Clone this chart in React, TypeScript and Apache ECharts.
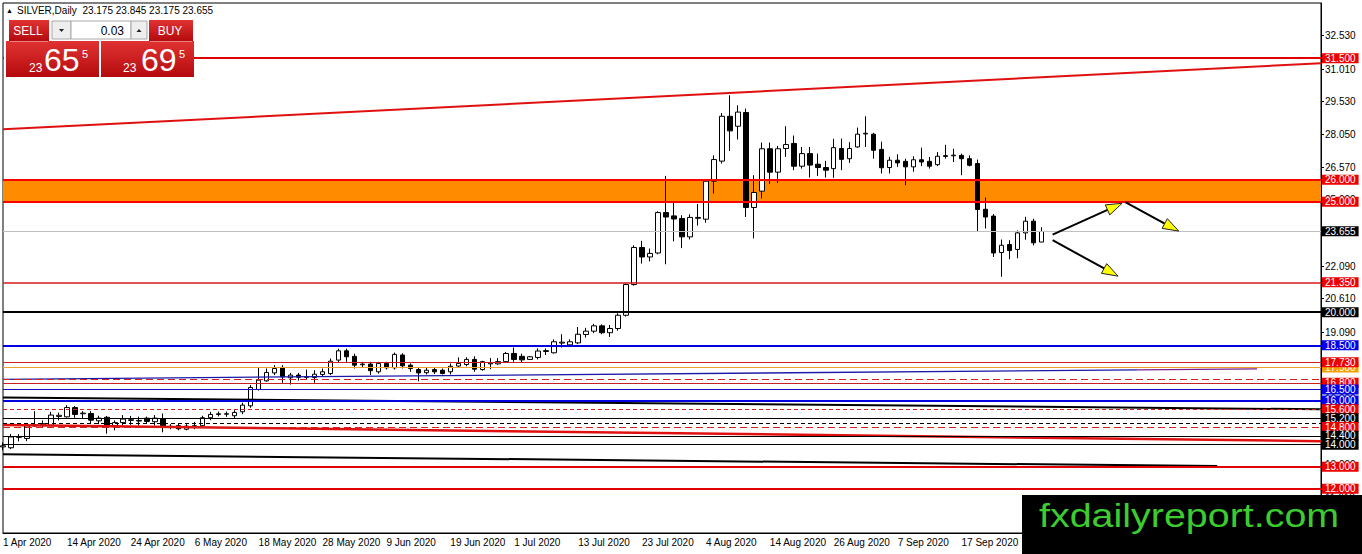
import React, { useEffect, useRef } from "react";
import * as echarts from "echarts";

const FONT = "'Liberation Sans', Arial, sans-serif";

// ---- categories (trading days) ----
const dates = [
  "1 Apr 2020", "2 Apr 2020", "3 Apr 2020", "6 Apr 2020", "7 Apr 2020", "8 Apr 2020", "9 Apr 2020", "13 Apr 2020",
  "14 Apr 2020", "15 Apr 2020", "16 Apr 2020", "17 Apr 2020", "20 Apr 2020", "21 Apr 2020", "22 Apr 2020", "23 Apr 2020",
  "24 Apr 2020", "27 Apr 2020", "28 Apr 2020", "29 Apr 2020", "30 Apr 2020", "1 May 2020", "4 May 2020", "5 May 2020",
  "6 May 2020", "7 May 2020", "8 May 2020", "11 May 2020", "12 May 2020", "13 May 2020", "14 May 2020", "15 May 2020",
  "18 May 2020", "19 May 2020", "20 May 2020", "21 May 2020", "22 May 2020", "25 May 2020", "26 May 2020", "27 May 2020",
  "28 May 2020", "29 May 2020", "1 Jun 2020", "2 Jun 2020", "3 Jun 2020", "4 Jun 2020", "5 Jun 2020", "8 Jun 2020",
  "9 Jun 2020", "10 Jun 2020", "11 Jun 2020", "12 Jun 2020", "15 Jun 2020", "16 Jun 2020", "17 Jun 2020", "18 Jun 2020",
  "19 Jun 2020", "22 Jun 2020", "23 Jun 2020", "24 Jun 2020", "25 Jun 2020", "26 Jun 2020", "29 Jun 2020", "30 Jun 2020",
  "1 Jul 2020", "2 Jul 2020", "3 Jul 2020", "6 Jul 2020", "7 Jul 2020", "8 Jul 2020", "9 Jul 2020", "10 Jul 2020",
  "13 Jul 2020", "14 Jul 2020", "15 Jul 2020", "16 Jul 2020", "17 Jul 2020", "20 Jul 2020", "21 Jul 2020", "22 Jul 2020",
  "23 Jul 2020", "24 Jul 2020", "27 Jul 2020", "28 Jul 2020", "29 Jul 2020", "30 Jul 2020", "31 Jul 2020", "3 Aug 2020",
  "4 Aug 2020", "5 Aug 2020", "6 Aug 2020", "7 Aug 2020", "10 Aug 2020", "11 Aug 2020", "12 Aug 2020", "13 Aug 2020",
  "14 Aug 2020", "17 Aug 2020", "18 Aug 2020", "19 Aug 2020", "20 Aug 2020", "21 Aug 2020", "24 Aug 2020", "25 Aug 2020",
  "26 Aug 2020", "27 Aug 2020", "28 Aug 2020", "31 Aug 2020", "1 Sep 2020", "2 Sep 2020", "3 Sep 2020", "4 Sep 2020",
  "7 Sep 2020", "8 Sep 2020", "9 Sep 2020", "10 Sep 2020", "11 Sep 2020", "14 Sep 2020", "15 Sep 2020", "16 Sep 2020",
  "17 Sep 2020", "18 Sep 2020", "21 Sep 2020", "22 Sep 2020", "23 Sep 2020", "24 Sep 2020", "25 Sep 2020", "28 Sep 2020",
  "29 Sep 2020", "30 Sep 2020", "1 Oct 2020",
];
const FUTURE_SLOTS = 35; // empty chart shift on the right

// ---- OHLC ----
const opens = [
  13.90, 13.86, 14.33, 14.28, 14.85, 14.90, 14.88, 15.28, 15.26, 15.68, 15.40, 15.41, 15.08, 15.24, 14.87, 15.00,
  15.10, 15.07, 15.20, 15.04, 15.16, 14.80, 14.86, 14.70, 14.82, 14.86, 15.22, 15.37, 15.38, 15.31, 15.49, 15.76,
  16.50, 16.89, 17.25, 17.50, 17.03, 17.15, 17.05, 17.04, 17.18, 17.22, 17.83, 18.25, 18.00, 17.62, 17.65, 17.30,
  17.68, 17.48, 18.06, 17.60, 17.40, 17.26, 17.40, 17.37, 17.30, 17.56, 17.63, 17.86, 17.40, 17.66, 17.66, 17.76,
  18.13, 18.00, 17.86, 17.95, 18.22, 18.16, 18.60, 18.52, 18.61, 18.99, 19.14, 19.38, 19.07, 19.26, 19.86, 21.25,
  22.93, 22.50, 22.68, 24.51, 24.36, 24.24, 23.41, 24.25, 24.21, 25.93, 26.84, 28.87, 28.42, 29.04, 24.74, 25.48,
  27.40, 26.34, 27.41, 27.64, 26.61, 27.18, 26.70, 26.55, 26.50, 27.41, 26.95, 27.48, 28.07, 28.06, 27.37, 26.55,
  26.88, 26.83, 26.58, 26.90, 26.83, 26.68, 27.05, 27.08, 27.10, 26.95, 26.73, 24.66, 24.35, 22.70, 23.06, 22.84,
  23.59, 24.12, 23.175,
];
const highs = [
  14.10, 14.48, 14.48, 14.96, 15.52, 15.10, 15.49, 15.45, 15.79, 15.75, 15.52, 15.52, 15.31, 15.30, 15.10, 15.34,
  15.30, 15.27, 15.27, 15.34, 15.41, 14.93, 14.95, 14.93, 15.03, 15.31, 15.49, 15.50, 15.50, 15.56, 15.90, 16.70,
  17.50, 17.45, 17.60, 17.60, 17.25, 17.25, 17.40, 17.37, 17.45, 17.90, 18.35, 18.35, 18.12, 17.75, 17.75, 17.75,
  17.75, 18.17, 18.14, 17.68, 17.50, 17.48, 17.48, 17.45, 17.68, 17.95, 17.96, 18.00, 17.80, 17.92, 17.92, 18.20,
  18.40, 18.12, 18.02, 18.36, 18.36, 18.77, 19.00, 18.77, 19.33, 19.29, 19.47, 19.45, 19.42, 19.95, 21.30, 23.03,
  23.23, 22.88, 24.57, 26.17, 24.95, 24.39, 24.43, 24.90, 26.00, 27.10, 29.02, 29.82, 29.37, 29.22, 26.20, 27.68,
  27.68, 27.53, 28.42, 28.00, 27.48, 27.48, 27.18, 26.85, 27.85, 27.86, 27.70, 28.36, 28.87, 28.12, 27.72, 27.03,
  27.15, 26.95, 27.06, 27.45, 27.03, 27.25, 27.58, 27.40, 27.18, 27.10, 26.91, 25.19, 24.44, 23.29, 23.26, 23.70,
  24.32, 24.23, 23.845,
];
const lows = [
  13.75, 13.80, 14.15, 14.16, 14.80, 14.80, 14.84, 15.10, 15.23, 15.22, 15.18, 14.96, 14.93, 14.50, 14.65, 14.86,
  14.90, 14.87, 14.98, 14.87, 14.56, 14.70, 14.65, 14.65, 14.70, 14.77, 15.11, 15.28, 15.26, 15.19, 15.38, 15.67,
  16.45, 16.85, 17.15, 16.80, 16.72, 16.90, 16.95, 16.80, 17.08, 17.15, 17.75, 17.75, 17.45, 17.50, 17.15, 17.22,
  17.40, 17.40, 17.45, 17.30, 16.87, 17.18, 17.20, 17.18, 17.18, 17.50, 17.55, 17.30, 17.35, 17.42, 17.62, 17.70,
  17.75, 17.70, 17.83, 17.86, 18.06, 18.13, 18.40, 18.45, 18.55, 18.85, 19.05, 19.00, 18.88, 19.16, 19.80, 21.20,
  22.20, 22.30, 22.62, 22.17, 23.21, 22.90, 23.29, 23.92, 24.05, 25.37, 26.73, 27.30, 27.82, 24.31, 23.34, 25.15,
  25.80, 25.85, 27.03, 26.43, 26.50, 26.10, 26.17, 26.10, 26.08, 26.43, 26.76, 27.45, 27.48, 26.95, 26.28, 26.28,
  26.58, 25.75, 26.36, 26.61, 26.50, 26.61, 26.95, 26.80, 26.20, 26.60, 23.64, 23.79, 22.50, 21.60, 22.40, 22.44,
  23.28, 23.02, 23.175,
];
const closes = [
  13.95, 14.35, 14.37, 14.85, 14.90, 14.95, 15.34, 15.33, 15.68, 15.37, 15.43, 15.11, 15.20, 14.89, 15.00, 15.16,
  15.13, 15.10, 15.05, 15.20, 14.86, 14.83, 14.72, 14.84, 14.86, 15.22, 15.37, 15.40, 15.40, 15.46, 15.79, 16.59,
  16.92, 17.27, 17.45, 17.07, 17.15, 17.05, 17.08, 17.19, 17.30, 17.78, 18.25, 17.98, 17.60, 17.65, 17.35, 17.68,
  17.48, 18.09, 17.57, 17.45, 17.25, 17.37, 17.30, 17.22, 17.55, 17.68, 17.86, 17.42, 17.76, 17.70, 17.76, 18.13,
  17.86, 17.84, 17.98, 18.24, 18.26, 18.66, 18.64, 18.66, 19.00, 19.14, 19.38, 19.07, 19.26, 19.86, 21.25, 22.93,
  22.50, 22.66, 24.51, 24.31, 24.22, 23.41, 24.29, 24.29, 25.93, 26.91, 28.87, 28.21, 29.06, 24.74, 25.42, 27.40,
  26.34, 27.40, 27.59, 26.61, 27.18, 26.66, 26.55, 26.43, 27.45, 26.92, 27.41, 28.06, 28.10, 27.33, 26.54, 26.88,
  26.76, 26.58, 26.90, 26.80, 26.61, 27.06, 27.09, 27.11, 26.95, 26.65, 24.65, 24.31, 22.68, 23.03, 22.79, 23.59,
  24.12, 23.14, 23.655,
];

// ---- price axis labels ----
const yTickValues = [32.53, 31.01, 29.53, 28.05, 26.57, 25.09, 23.61, 22.09, 20.61, 19.09, 17.61, 16.09, 14.61, 13.09, 11.61];

// ---- horizontal levels (price) and their look ----
const levelPrices = [31.5, 26.0, 25.0, 23.655, 21.35, 20.0, 18.5, 17.5, 17.73, 16.95, 16.8, 16.5, 16.0, 15.6, 15.2, 14.96, 14.8, 14.4, 14.0, 13.0, 12.0];
const levelLook: { c: string; w: number; t: any; tag: string | null }[] = [
  { c: "#e00000", w: 2, t: "solid", tag: "#ee0000" },
  { c: "#ff0000", w: 2, t: "solid", tag: "#ee0000" },
  { c: "#ff0000", w: 2, t: "solid", tag: "#ee0000" },
  { c: "#c0c0c0", w: 1, t: "solid", tag: "#000000" },
  { c: "#d41a1a", w: 1.5, t: "solid", tag: "#ee0000" },
  { c: "#000000", w: 2, t: "solid", tag: "#000000" },
  { c: "#0000e0", w: 2, t: "solid", tag: "#0000ee" },
  { c: "#f0a030", w: 1.2, t: "solid", tag: "#f5a000" },
  { c: "#c82020", w: 1.2, t: "solid", tag: "#ee0000" },
  { c: "#d02020", w: 1.2, t: [7, 4], tag: null },
  { c: "#c82020", w: 1.2, t: "solid", tag: "#ee0000" },
  { c: "#1010c0", w: 1.2, t: "solid", tag: "#0000ee" },
  { c: "#0000e0", w: 2, t: "solid", tag: "#0000ee" },
  { c: "#d02020", w: 1.2, t: [4, 3], tag: "#ee0000" },
  { c: "#000000", w: 1.2, t: "solid", tag: "#000000" },
  { c: "#000000", w: 1.2, t: [4, 3], tag: null },
  { c: "#d02020", w: 1.2, t: [7, 4], tag: "#ee0000" },
  { c: "#000000", w: 1.2, t: "solid", tag: "#000000" },
  { c: "#000000", w: 1.2, t: "solid", tag: "#000000" },
  { c: "#e00000", w: 2, t: "solid", tag: "#ee0000" },
  { c: "#e00000", w: 2, t: "solid", tag: "#ee0000" },
];

// ---- band ----
const bandLow = 25.0;
const bandHigh = 26.0;

// ---- trend lines: [barIndex, price] ----
const trendFrom = [[0, 28.28], [0, 16.14], [0, 14.89], [0, 13.57], [0, 16.96], [142, 17.385]];
const trendTo = [[165, 31.27], [165, 15.6], [165, 14.16], [152, 13.03], [142, 17.385], [157, 17.43]];
const trendLook = [
  { c: "#e01010", w: 2 },
  { c: "#000000", w: 2 },
  { c: "#e01010", w: 2.5 },
  { c: "#000000", w: 2 },
  { c: "#1a1aa8", w: 1.3 },
  { c: "#7a1f8f", w: 1.3 },
];

// ---- arrows: [barIndex, price] ----
const arrowFrom = [[131.4, 23.51], [140.5, 24.98], [131.4, 23.26]];
const arrowTo = [[140.1, 24.93], [147.2, 23.67], [139.6, 21.63]];

// header values
const symbolTitle = "SILVER,Daily";
const ohlcHeader = ["23.175", "23.845", "23.175", "23.655"];
const lotSize = "0.03";
const sellPrice = { big: "23", pips: "65", frac: "5" };
const buyPrice = { big: "23", pips: "69", frac: "5" };

function redGrad() {
  return new echarts.graphic.LinearGradient(0, 0, 0, 1, [
    { offset: 0, color: "#e03232" },
    { offset: 1, color: "#b50b0e" },
  ]);
}

function buildOption() {
  const categories = [...dates, ...Array.from({ length: FUTURE_SLOTS }, (_, k) => `slot-${k + 1}`)];
  const candleData = opens.map((o, i) => [o, closes[i], lows[i], highs[i]]);

  const markLineData = levelPrices.map((v, i) => {
    const lk = levelLook[i];
    return {
      yAxis: v,
      lineStyle: { color: lk.c, width: lk.w, type: lk.t },
      label: lk.tag
        ? {
            show: true,
            position: "end",
            distance: 1,
            formatter: v.toFixed(3),
            color: "#ffffff",
            backgroundColor: lk.tag,
            padding: [0, 3, 0, 3],
            fontSize: 10,
            lineHeight: 10,
            fontFamily: FONT,
          }
        : { show: false },
    };
  });

  const trendSeries = trendFrom.map((p, k) => ({
    type: "line",
    data: [p, trendTo[k]],
    symbol: "none",
    showSymbol: false,
    silent: true,
    z: 3,
    lineStyle: { color: trendLook[k].c, width: trendLook[k].w },
    animation: false,
  }));

  const graphics: any[] = [
    // header
    { type: "text", z: 100, x: 6, y: 10.5, style: { text: "▲", fontSize: 7, fill: "#000", textVerticalAlign: "middle", fontFamily: FONT } },
    {
      type: "text", z: 100, x: 17, y: 10.5,
      style: { text: `${symbolTitle}  ${ohlcHeader.join(" ")}`, fontSize: 10, fill: "#000", textVerticalAlign: "middle", fontFamily: FONT },
    },
    // panel background
    { type: "rect", z: 100, shape: { x: 4, y: 19, width: 190, height: 58 }, style: { fill: "#ffffff" } },
    // SELL button
    { type: "rect", z: 101, shape: { x: 9, y: 20, width: 40, height: 21 }, style: { fill: redGrad() } },
    { type: "text", z: 102, x: 28, y: 31, style: { text: "SELL", fontSize: 12, fill: "#fff", textAlign: "center", textVerticalAlign: "middle", fontFamily: FONT } },
    // spin down
    { type: "rect", z: 101, shape: { x: 52, y: 21, width: 19, height: 18 }, style: { fill: "#eeeeee", stroke: "#a8a8a8", lineWidth: 1 } },
    { type: "polygon", z: 102, shape: { points: [[59, 29], [64, 29], [61.5, 32]] }, style: { fill: "#222" } },
    // lot input
    { type: "rect", z: 101, shape: { x: 71, y: 21, width: 60, height: 18 }, style: { fill: "#ffffff", stroke: "#a8a8a8", lineWidth: 1 } },
    { type: "text", z: 102, x: 124, y: 30.5, style: { text: lotSize, fontSize: 12, fill: "#000", textAlign: "right", textVerticalAlign: "middle", fontFamily: FONT } },
    // spin up
    { type: "rect", z: 101, shape: { x: 131, y: 21, width: 16, height: 18 }, style: { fill: "#eeeeee", stroke: "#a8a8a8", lineWidth: 1 } },
    { type: "polygon", z: 102, shape: { points: [[136.5, 32], [141.5, 32], [139, 29]] }, style: { fill: "#222" } },
    // BUY button
    { type: "rect", z: 101, shape: { x: 149, y: 20, width: 44, height: 21 }, style: { fill: redGrad() } },
    { type: "text", z: 102, x: 170, y: 31, style: { text: "BUY", fontSize: 12, fill: "#fff", textAlign: "center", textVerticalAlign: "middle", fontFamily: FONT } },
    // big price boxes
    { type: "rect", z: 101, shape: { x: 6, y: 41, width: 93, height: 36 }, style: { fill: redGrad() } },
    { type: "rect", z: 101, shape: { x: 101, y: 41, width: 93, height: 36 }, style: { fill: redGrad() } },
    { type: "line", z: 102, shape: { x1: 10, y1: 41.5, x2: 48, y2: 41.5 }, style: { stroke: "#ee8080", lineWidth: 1 } },
    { type: "line", z: 102, shape: { x1: 150, y1: 41.5, x2: 192, y2: 41.5 }, style: { stroke: "#ee8080", lineWidth: 1 } },
    { type: "text", z: 102, x: 29, y: 67.5, style: { text: sellPrice.big, fontSize: 12, fill: "#fff", textVerticalAlign: "middle", fontFamily: FONT } },
    { type: "text", z: 102, x: 44, y: 60, style: { text: sellPrice.pips, fontSize: 32, fill: "#fff", textVerticalAlign: "middle", fontFamily: FONT } },
    { type: "text", z: 102, x: 82, y: 53.5, style: { text: sellPrice.frac, fontSize: 11, fill: "#fff", textVerticalAlign: "middle", fontFamily: FONT } },
    { type: "text", z: 102, x: 123, y: 67.5, style: { text: buyPrice.big, fontSize: 12, fill: "#fff", textVerticalAlign: "middle", fontFamily: FONT } },
    { type: "text", z: 102, x: 141, y: 60, style: { text: buyPrice.pips, fontSize: 32, fill: "#fff", textVerticalAlign: "middle", fontFamily: FONT } },
    { type: "text", z: 102, x: 179, y: 53.5, style: { text: buyPrice.frac, fontSize: 11, fill: "#fff", textVerticalAlign: "middle", fontFamily: FONT } },
    // watermark
    { type: "rect", z: 110, shape: { x: 1022, y: 495, width: 340, height: 59 }, style: { fill: "#000000" } },
    {
      type: "text", z: 111, x: 1039, y: 515, scaleX: 1.16,
      style: { text: "fxdailyreport.com", fontSize: 34, fill: "#3ccc30", textVerticalAlign: "middle", fontFamily: FONT },
    },
  ];

  return {
    animation: false,
    backgroundColor: "#ffffff",
    grid: { left: 3, right: 41, top: 3, bottom: 21, show: true, borderColor: "#000", borderWidth: 1, containLabel: false },
    xAxis: {
      type: "category",
      data: categories,
      boundaryGap: false,
      axisLine: { show: true, lineStyle: { color: "#000", width: 1 } },
      axisTick: { show: false },
      axisLabel: {
        interval: (i: number) => i < dates.length && i % 8 === 0,
        align: "left",
        color: "#000",
        fontSize: 10,
        fontFamily: FONT,
        margin: 4,
      },
      splitLine: { show: false },
    },
    yAxis: {
      type: "value",
      position: "right",
      min: 10,
      max: 34,
      axisLine: { show: true, lineStyle: { color: "#000", width: 1 } },
      axisTick: { show: true, length: 3, customValues: yTickValues, lineStyle: { color: "#000" } },
      axisLabel: {
        customValues: yTickValues,
        formatter: (v: number) => v.toFixed(3),
        color: "#000",
        fontSize: 10,
        fontFamily: FONT,
        margin: 4,
      },
      splitLine: { show: false },
    },
    series: [
      {
        type: "candlestick",
        data: candleData,
        barWidth: 5,
        z: 2,
        itemStyle: { color: "#ffffff", color0: "#000000", borderColor: "#000000", borderColor0: "#000000", borderWidth: 1 },
        markArea: {
          silent: true,
          z: 1,
          itemStyle: { color: "#ff8c00" },
          data: [[{ yAxis: bandLow }, { yAxis: bandHigh }]],
        },
        markLine: {
          silent: true,
          z: 5,
          symbol: ["none", "none"],
          animation: false,
          data: markLineData,
        },
      },
      ...trendSeries,
      {
        type: "custom",
        z: 6,
        silent: true,
        clip: false,
        data: arrowFrom.map((p) => [p[0], p[1]]),
        encode: { x: 0, y: 1 },
        renderItem: (params: any, api: any) => {
          const k = params.dataIndex;
          const toPx = (pt: number[]) => {
            const i0 = Math.floor(pt[0]);
            const a = api.coord([i0, pt[1]]);
            const b = api.coord([i0 + 1, pt[1]]);
            const f = pt[0] - i0;
            return [a[0] + (b[0] - a[0]) * f, a[1]];
          };
          const p0 = toPx(arrowFrom[k]);
          const p1 = toPx(arrowTo[k]);
          const dx = p1[0] - p0[0];
          const dy = p1[1] - p0[1];
          const len = Math.hypot(dx, dy) || 1;
          const ux = dx / len;
          const uy = dy / len;
          const headLen = 16;
          const headHalf = 5.5;
          const bx = p1[0] - ux * headLen;
          const by = p1[1] - uy * headLen;
          return {
            type: "group",
            children: [
              { type: "line", shape: { x1: p0[0], y1: p0[1], x2: bx, y2: by }, style: { stroke: "#000", lineWidth: 2 } },
              {
                type: "polygon",
                shape: { points: [[p1[0], p1[1]], [bx - uy * headHalf, by + ux * headHalf], [bx + uy * headHalf, by - ux * headHalf]] },
                style: { fill: "#ffff00", stroke: "#222", lineWidth: 1 },
              },
            ],
          };
        },
      },
    ],
    graphic: graphics,
  };
}

export default function App() {
  const ref = useRef<HTMLDivElement>(null);
  useEffect(() => {
    if (!ref.current) return;
    const chart = echarts.init(ref.current, undefined, { renderer: "svg" });
    chart.setOption(buildOption() as any);
    return () => chart.dispose();
  }, []);
  return <div ref={ref} style={{ position: "absolute", left: 0, top: 0, width: 1362, height: 554 }} />;
}
